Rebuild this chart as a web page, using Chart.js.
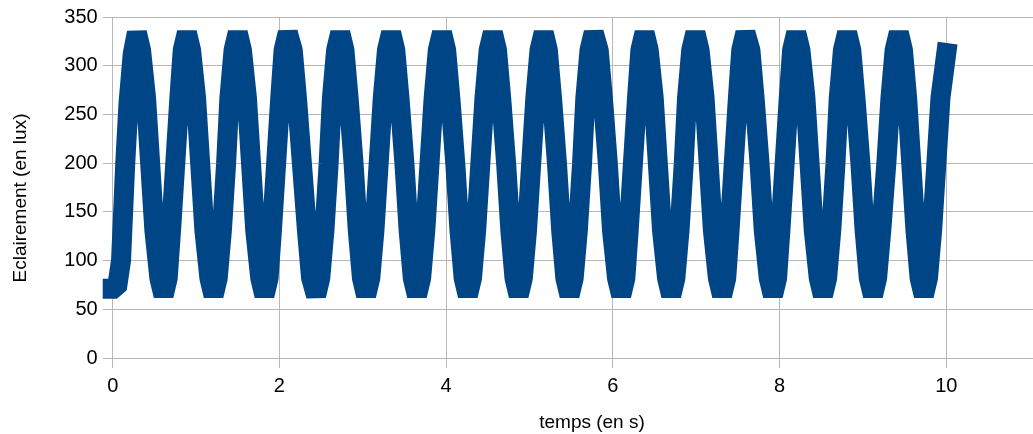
<!DOCTYPE html>
<html>
<head>
<meta charset="utf-8">
<script src="https://cdn.jsdelivr.net/npm/chart.js@4/dist/chart.umd.min.js"></script>
<style>
  html, body { margin: 0; padding: 0; background: #fff; }
  #wrap { width: 1033px; height: 434px; }
</style>
</head>
<body>
<div id="wrap"><canvas id="luxChart" width="1033" height="434"></canvas></div>
<script>
// Data, one half-oscillation per line
const temps = [
  0.00, 0.05, 0.10, 0.15, 0.19, 0.24, 0.29,
  0.34, 0.40, 0.45, 0.50, 0.56, 0.61,
  0.66, 0.70, 0.75, 0.80, 0.84, 0.89,
  0.94, 1.00, 1.05, 1.10, 1.16, 1.21,
  1.26, 1.31, 1.36, 1.40, 1.45, 1.50,
  1.55, 1.61, 1.66, 1.71, 1.77, 1.82,
  1.87, 1.91, 1.96, 2.01, 2.05, 2.10,
  2.16, 2.21, 2.27, 2.33, 2.38, 2.44,
  2.49, 2.54, 2.59, 2.63, 2.68, 2.73,
  2.78, 2.83, 2.89, 2.94, 2.99, 3.04,
  3.09, 3.14, 3.19, 3.24, 3.29, 3.34,
  3.39, 3.44, 3.50, 3.55, 3.60, 3.65,
  3.70, 3.75, 3.80, 3.85, 3.90, 3.95,
  4.00, 4.05, 4.11, 4.16, 4.21, 4.26,
  4.31, 4.36, 4.41, 4.46, 4.51, 4.56,
  4.61, 4.66, 4.72, 4.77, 4.82, 4.87,
  4.92, 4.97, 5.02, 5.07, 5.12, 5.17,
  5.22, 5.27, 5.33, 5.38, 5.43, 5.48,
  5.53, 5.58, 5.63, 5.67, 5.72, 5.77,
  5.83, 5.88, 5.94, 5.99, 6.05, 6.10,
  6.15, 6.19, 6.24, 6.29, 6.33, 6.38,
  6.43, 6.49, 6.54, 6.59, 6.65, 6.70,
  6.75, 6.80, 6.85, 6.89, 6.94, 6.99,
  7.04, 7.10, 7.15, 7.20, 7.26, 7.31,
  7.36, 7.40, 7.45, 7.50, 7.54, 7.59,
  7.65, 7.70, 7.76, 7.81, 7.87, 7.92,
  7.97, 8.01, 8.06, 8.11, 8.15, 8.20,
  8.25, 8.31, 8.36, 8.41, 8.47, 8.52,
  8.57, 8.62, 8.67, 8.71, 8.76, 8.81,
  8.86, 8.91, 8.97, 9.02, 9.07, 9.12,
  9.17, 9.22, 9.28, 9.33, 9.38, 9.43,
  9.48, 9.53, 9.58, 9.63, 9.68, 9.73,
  9.78, 9.83, 9.88, 9.93, 10.00,
];

const eclairement = [
  71, 71, 100, 199, 262, 312, 334,
  316, 267, 199, 131, 82, 64,
  82, 131, 199, 267, 316, 334,
  316, 267, 199, 131, 82, 64,
  82, 131, 199, 267, 316, 334,
  316, 267, 199, 131, 82, 64,
  82, 131, 199, 267, 316, 334,
  316, 267, 199, 131, 82, 64,
  82, 131, 199, 267, 316, 334,
  316, 267, 199, 131, 82, 64,
  82, 131, 199, 267, 316, 334,
  316, 267, 199, 131, 82, 64,
  82, 131, 199, 267, 316, 334,
  316, 267, 199, 131, 82, 64,
  82, 131, 199, 267, 316, 334,
  316, 267, 199, 131, 82, 64,
  82, 131, 199, 267, 316, 334,
  316, 267, 199, 131, 82, 64,
  82, 131, 199, 267, 316, 334,
  316, 267, 199, 131, 82, 64,
  82, 131, 199, 267, 316, 334,
  316, 267, 199, 131, 82, 64,
  82, 131, 199, 267, 316, 334,
  316, 267, 199, 131, 82, 64,
  82, 131, 199, 267, 316, 334,
  316, 267, 199, 131, 82, 64,
  82, 131, 199, 267, 316, 334,
  316, 267, 199, 131, 82, 64,
  82, 131, 199, 267, 316, 334,
  316, 267, 199, 131, 82, 64,
  82, 131, 199, 267, 316, 334,
  316, 267, 199, 131, 82, 64,
  82, 131, 199, 267, 313,
];

const xTicks = [0, 2, 4, 6, 8, 10];
const yTicks = [0, 50, 100, 150, 200, 250, 300, 350];
const xTitle = "temps (en s)";
const yTitle = "Eclairement (en lux)";

const fontFamily = "'Liberation Sans', Arial, sans-serif";

// Axis titles placed like the original (offset from the plot centre)
const axisTitles = {
  id: "axisTitles",
  afterDraw(chart) {
    const ctx = chart.ctx;
    ctx.save();
    ctx.fillStyle = "#000";
    ctx.font = "19px " + fontFamily;
    ctx.textAlign = "center";
    ctx.textBaseline = "middle";
    ctx.fillText(xTitle, 592, 423);
    ctx.translate(21, 198);
    ctx.rotate(-Math.PI / 2);
    ctx.fillText(yTitle, 0, 0);
    ctx.restore();
  },
};

// Setup
const luxData = {
  datasets: [
    {
      label: "Eclairement",
      data: temps.map((t, i) => ({ x: t, y: eclairement[i] })),
      borderColor: "#004586",
      backgroundColor: "#004586",
      borderWidth: 20,
      borderJoinStyle: "bevel",
      borderCapStyle: "square",
      pointRadius: 0,
      tension: 0,
      clip: false,
    },
  ],
};

const gridStyle = {
  color: "#b8b8b8",
  lineWidth: 1,
  tickLength: 10,
  tickColor: "#b8b8b8",
};

// Config
const luxConfig = {
  type: "line",
  data: luxData,
  options: {
    responsive: false,
    animation: false,
    devicePixelRatio: 1,
    layout: { padding: { top: 17, right: 0, bottom: 0, left: 0 } },
    plugins: { legend: { display: false }, tooltip: { enabled: false } },
    scales: {
      x: {
        type: "linear",
        min: 0,
        max: 11.04,
        border: { display: false },
        grid: gridStyle,
        afterBuildTicks: (scale) => {
          scale.ticks = xTicks.map((v) => ({ value: v }));
        },
        afterFit: (scale) => { scale.height = 76; },
        ticks: {
          color: "#000",
          padding: 6,
          maxRotation: 0,
          font: { family: fontFamily, size: 20 },
        },
      },
      y: {
        min: 0,
        max: 350,
        border: { display: false },
        grid: gridStyle,
        afterBuildTicks: (scale) => {
          scale.ticks = yTicks.map((v) => ({ value: v }));
        },
        afterFit: (scale) => { scale.width = 112.7; },
        ticks: {
          color: "#000",
          padding: 5,
          font: { family: fontFamily, size: 20 },
        },
      },
    },
  },
  plugins: [axisTitles],
};

const luxChart = new Chart(document.getElementById("luxChart"), luxConfig);
</script>
</body>
</html>
